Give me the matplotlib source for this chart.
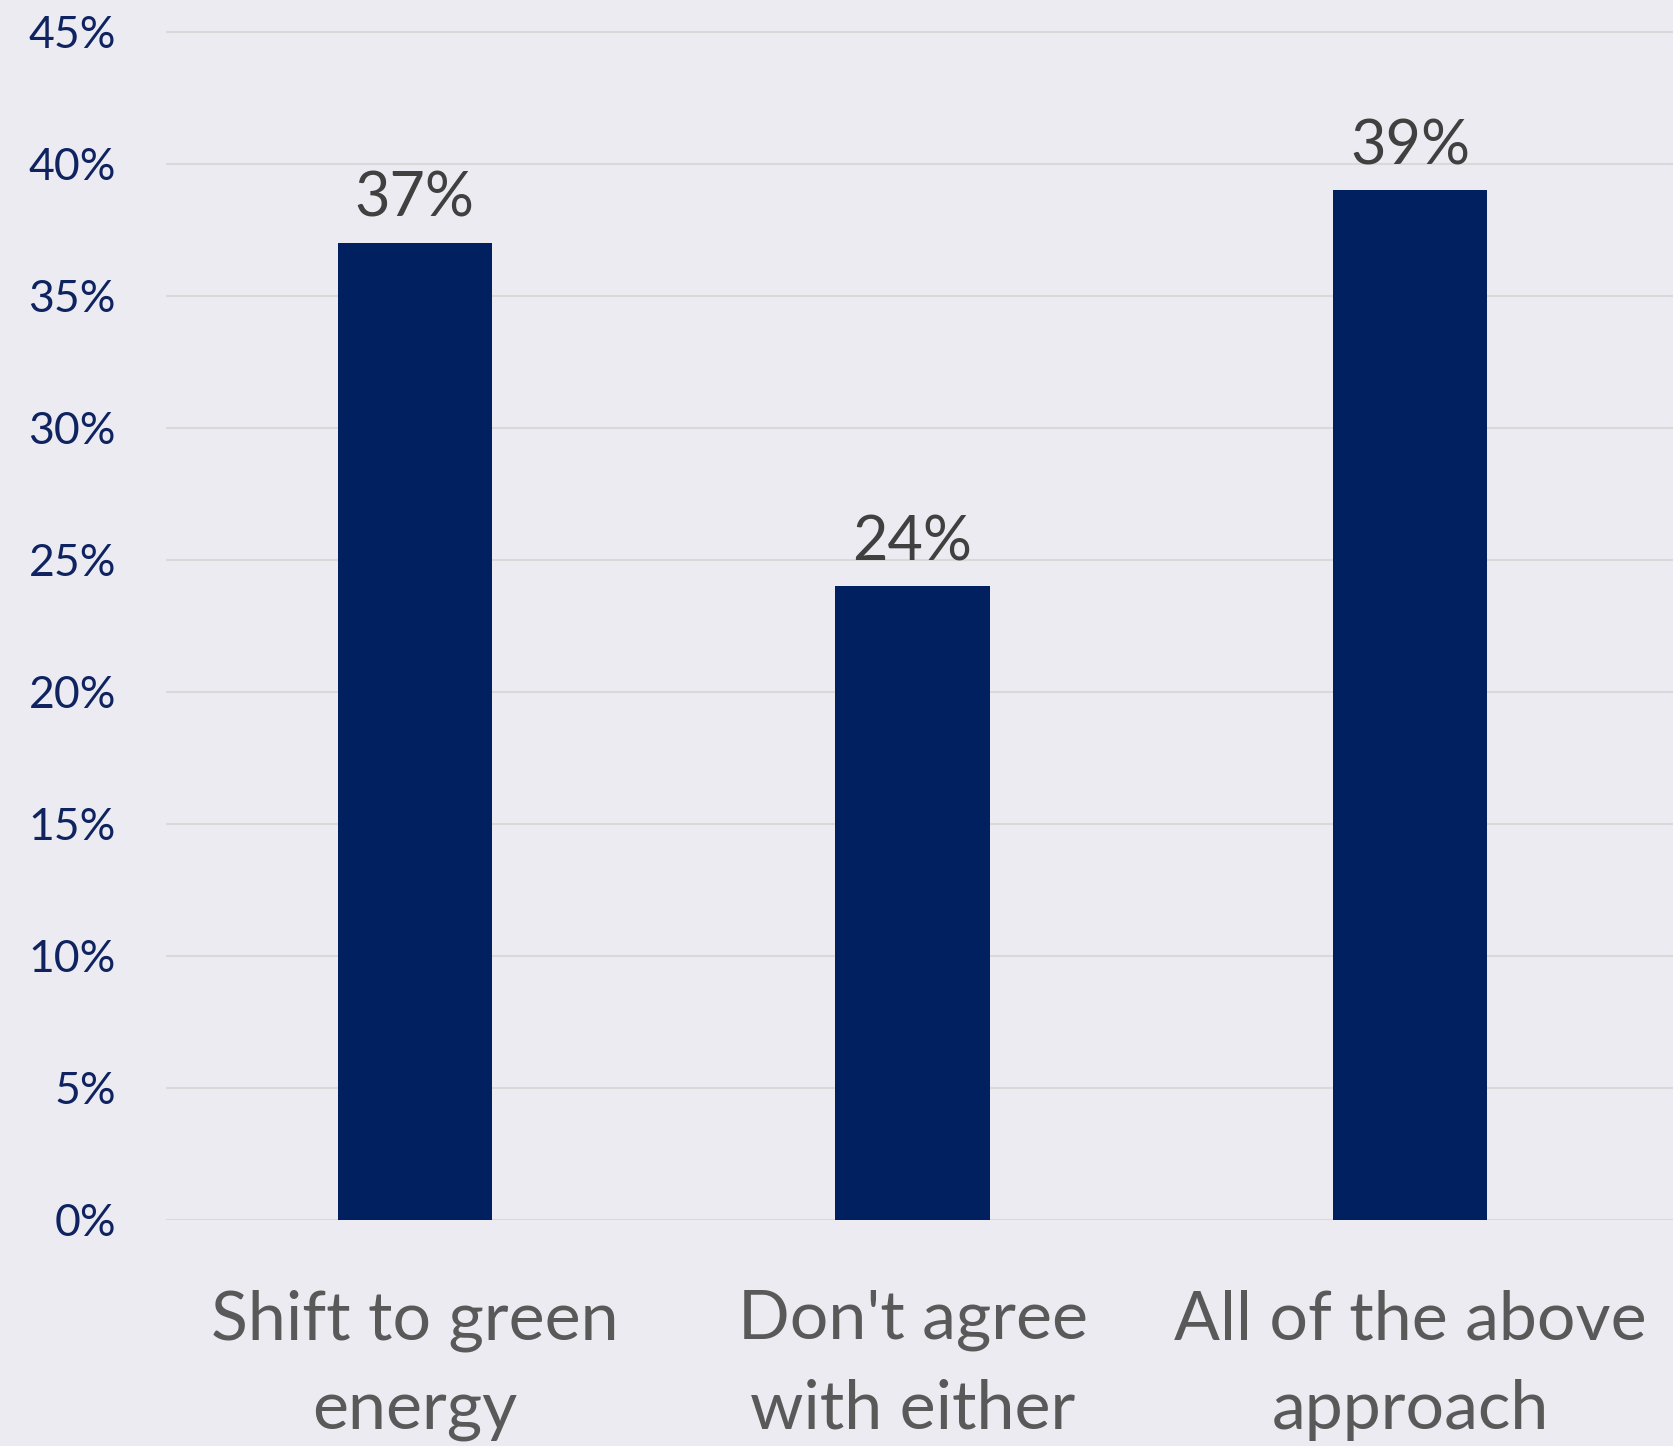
import matplotlib.pyplot as plt
from matplotlib.ticker import PercentFormatter

categories = ["Shift to green\nenergy", "Don't agree\nwith either", "All of the above\napproach"]
shares = [0.37, 0.24, 0.39]
value_labels = ["37%", "24%", "39%"]
y_ticks = [0.0, 0.05, 0.10, 0.15, 0.20, 0.25, 0.30, 0.35, 0.40, 0.45]

bg = "#EBEBF1"
bar_color = "#012060"

plt.rcParams['font.family'] = ['Lato', 'DejaVu Sans']

fig = plt.figure(figsize=(16.74, 14.46), dpi=100)
fig.patch.set_facecolor(bg)

# axes placed by pixel: 0% at y=1220, 45% at y=32, left edge at x=166
bottom = (1446 - 1220) / 1446
unit = (1220 - 32) / 1446 / 0.45
ax = fig.add_axes([166 / 1674, bottom, 1 - 166 / 1674, unit * 0.452])
ax.set_facecolor(bg)

x = range(len(categories))
ax.bar(x, shares, width=0.31, color=bar_color, zorder=3)

for xi, v, lab in zip(x, shares, value_labels):
    ax.annotate(lab, (xi, v), xytext=(0, 19), textcoords="offset points",
                ha="center", va="baseline", fontsize=44, color="#404040")

ax.set_xlim(-0.5, 2.53)
ax.set_ylim(0, 0.452)
ax.set_yticks(y_ticks)
ax.yaxis.set_major_formatter(PercentFormatter(1.0, decimals=0))
ax.set_xticks(list(x))
ax.set_xticklabels(categories, fontsize=49, color="#595959", linespacing=1.55)

ax.grid(axis="y", color="#D9D9D9", linewidth=1.5, zorder=0)
ax.tick_params(axis="y", length=0, pad=36, labelsize=32, labelcolor="#0E2360")
ax.tick_params(axis="x", length=0, pad=50)
for side in ax.spines.values():
    side.set_visible(False)

fig.savefig("out.png", dpi=100, facecolor=bg)
